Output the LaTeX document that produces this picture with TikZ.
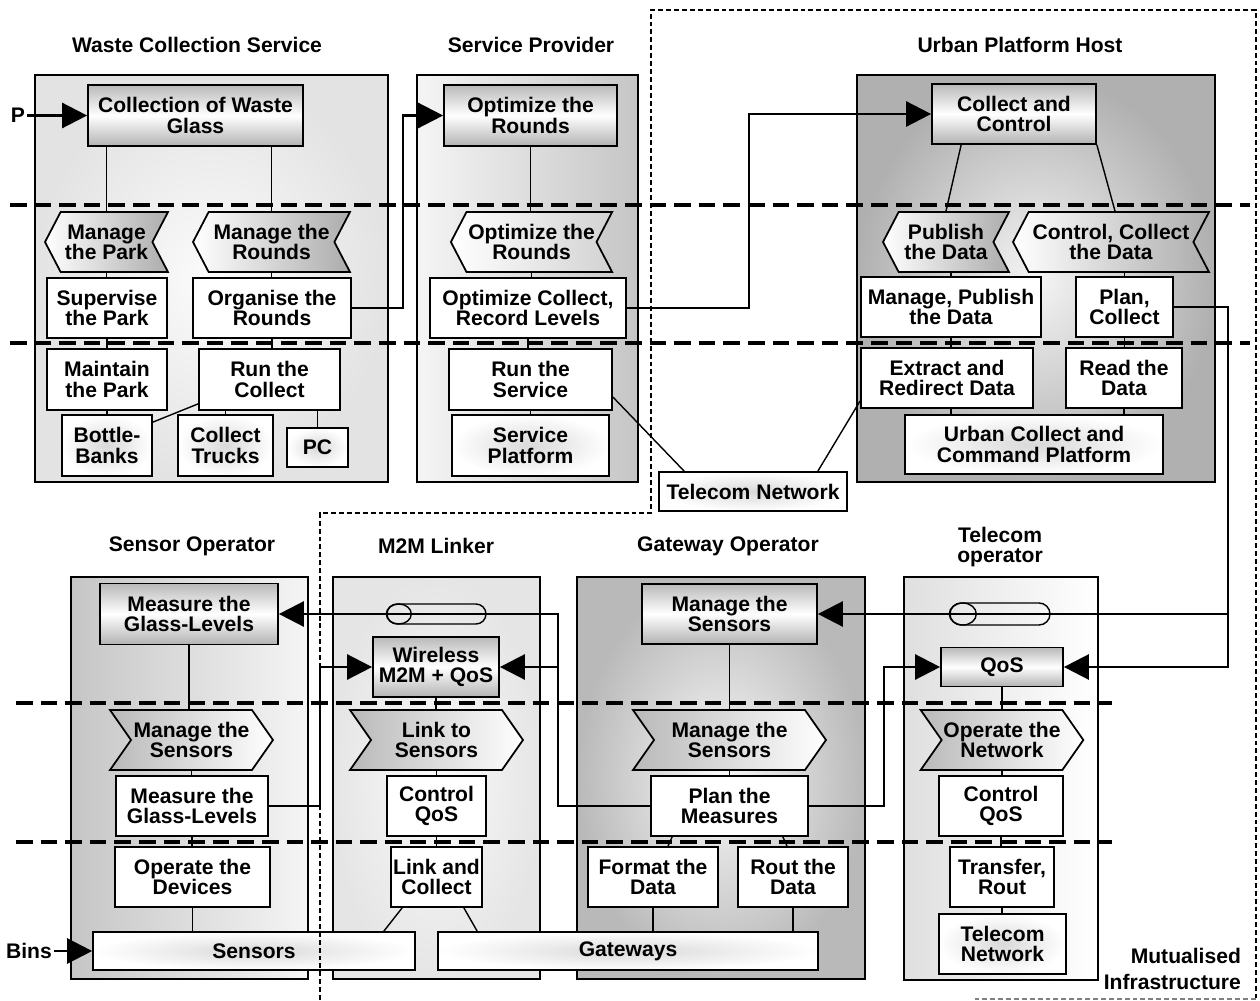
\documentclass[tikz,border=0pt]{standalone}
\usepackage{fontspec}
\setmainfont{Liberation Sans}
\usetikzlibrary{shapes.geometric, shapes.symbols, shapes.misc, arrows.meta}

\begin{document}
\begin{tikzpicture}[
    x=0.02cm, y=-0.02cm,
    every node/.style={font=\fontsize{12}{11.5}\selectfont\bfseries, align=center, inner sep=1pt},
    cont/.style={rectangle, draw, line width=1.1pt},
    proc/.style={rectangle, draw, line width=1pt, top color=gray!55, bottom color=gray!60, middle color=white},
    task/.style={rectangle, draw, line width=1pt, fill=white},
    res/.style={rectangle, draw, line width=1pt, inner color=gray!30, outer color=white},
    chevl/.style={signal, signal to=west, signal from=east, signal pointer angle=125, draw, line width=1pt, left color=white, right color=gray!65},
    chevr/.style={signal, signal to=east, signal from=west, signal pointer angle=110, draw, line width=1pt, left color=gray!55, right color=white},
    pipe/.style={rounded rectangle, draw, line width=0.8pt, inner sep=0pt},
    pipecap/.style={ellipse, draw, line width=0.8pt, inner sep=0pt},
    link/.style={line width=0.8pt},
    arrow/.style={-{Triangle[length=5mm, width=5mm]}, line width=1.5pt},
    level/.style={line width=2.3pt, dash pattern=on 9.5pt off 4.5pt},
    mutual/.style={line width=0.8pt, dash pattern=on 2.8pt off 1.7pt}
]
\useasboundingbox (0,0) rectangle (1260,1000);

% Role containers (top)
\node[cont, minimum width=7.06cm, minimum height=8.14cm, inner color=gray!3, outer color=gray!22] (wastebox) at (211.5,278.5) {};
\node[cont, minimum width=4.42cm, minimum height=8.14cm, left color=gray!8, right color=gray!45] (provbox) at (527.5,278.5) {};
\node[cont, minimum width=7.16cm, minimum height=8.14cm, inner color=gray!8, outer color=gray!62] (urbanbox) at (1036,278.5) {};

% Role containers (bottom)
\node[cont, minimum width=4.74cm, minimum height=8.04cm, left color=gray!45, right color=gray!8] (sensorbox) at (189.5,778) {};
\node[cont, minimum width=4.14cm, minimum height=8.04cm, inner color=gray!4, outer color=gray!20] (linkerbox) at (436.5,778) {};
\node[cont, minimum width=5.76cm, minimum height=8.04cm, inner color=gray!5, outer color=gray!55] (gatewaybox) at (721,778) {};
\node[cont, minimum width=3.88cm, minimum height=8.06cm, left color=gray!25, right color=white] (telecombox) at (1001,778.5) {};

% Titles
\node (wastetitle) at (197,45) {Waste Collection Service};
\node (provtitle) at (531,45) {Service Provider};
\node (urbantitle) at (1020,45) {Urban Platform Host};
\node (sensortitle) at (192,546) {Sensor Operator};
\node (linkertitle) at (436,546) {M2M Linker};
\node (gatewaytitle) at (728,546) {Gateway Operator};
\node (telecomtitle) at (1000,547) {Telecom\\operator};

% Level separators
\draw[level] (10,205) -- (1250,205);
\draw[level] (10,343) -- (1250,343);
\draw[level] (16,703) -- (1112,703);
\draw[level] (16,842) -- (1112,842);

% Waste Collection Service
\node[proc, minimum width=4.3cm, minimum height=1.22cm] (coll) at (195.5,115.5) {Collection of Waste\\Glass};
\node[chevl, minimum width=2.46cm, minimum height=1.2cm] (parkchev) at (106.5,242) {Manage\\the Park};
\node[chevl, minimum width=3.14cm, minimum height=1.2cm] (roundchev) at (271.5,242) {Manage the\\Rounds};
\node[task, minimum width=2.4cm, minimum height=1.2cm] (superv) at (107,308) {Supervise\\the Park};
\node[task, minimum width=3.16cm, minimum height=1.2cm] (organise) at (272,308) {Organise the\\Rounds};
\node[task, minimum width=2.4cm, minimum height=1.22cm] (maintain) at (107,379.5) {Maintain\\the Park};
\node[task, minimum width=2.82cm, minimum height=1.22cm] (runcoll) at (269.5,379.5) {Run the\\Collect};
\node[res, minimum width=1.8cm, minimum height=1.22cm] (banks) at (107,445.5) {Bottle-\\Banks};
\node[res, minimum width=1.9cm, minimum height=1.22cm] (trucks) at (225.5,445.5) {Collect\\Trucks};
\node[res, minimum width=1.22cm, minimum height=0.78cm] (pc) at (317.5,447.5) {PC};

% Service Provider
\node[proc, minimum width=3.46cm, minimum height=1.22cm] (optim) at (530.5,115.5) {Optimize the\\Rounds};
\node[chevl, minimum width=3.18cm, minimum height=1.2cm, right color=gray!35] (optchev) at (531.5,242) {Optimize the\\Rounds};
\node[task, minimum width=3.92cm, minimum height=1.2cm] (optcoll) at (528,308) {Optimize Collect,\\Record Levels};
\node[task, minimum width=3.26cm, minimum height=1.22cm] (runserv) at (530.5,379.5) {Run the\\Service};
\node[res, minimum width=3.14cm, minimum height=1.22cm] (servplat) at (530.5,445.5) {Service\\Platform};

% Urban Platform Host
\node[proc, minimum width=3.28cm, minimum height=1.2cm] (collctrl) at (1014,114) {Collect and\\Control};
\node[chevl, minimum width=2.52cm, minimum height=1.2cm] (pubchev) at (946,242) {Publish\\the Data};
\node[chevl, minimum width=3.92cm, minimum height=1.2cm] (ctrlchev) at (1111,242) {Control, Collect\\the Data};
\node[task, minimum width=3.6cm, minimum height=1.2cm] (managepub) at (951,307) {Manage, Publish\\the Data};
\node[task, minimum width=1.94cm, minimum height=1.2cm] (plancoll) at (1124.5,307) {Plan,\\Collect};
\node[task, minimum width=3.44cm, minimum height=1.2cm] (extract) at (947,378) {Extract and\\Redirect Data};
\node[task, minimum width=2.32cm, minimum height=1.2cm] (readdata) at (1124,378) {Read the\\Data};
\node[res, minimum width=5.16cm, minimum height=1.18cm] (urbplat) at (1034,444.5) {Urban Collect and\\Command Platform};

% Shared network
\node[res, minimum width=3.76cm, minimum height=0.78cm] (telnet) at (753,491.5) {Telecom Network};

% Sensor Operator
\node[proc, minimum width=3.56cm, minimum height=1.22cm] (measure) at (189,614) {Measure the\\Glass-Levels};
\node[chevr, minimum width=3.26cm, minimum height=1.2cm] (senschev) at (191.5,740) {Manage the\\Sensors};
\node[task, minimum width=3.04cm, minimum height=1.2cm] (measlev) at (192,806) {Measure the\\Glass-Levels};
\node[task, minimum width=3.1cm, minimum height=1.2cm] (operate) at (192.5,877) {Operate the\\Devices};
\node[res, minimum width=6.44cm, minimum height=0.76cm] (sensors) at (254,951) {Sensors};

% M2M Linker
\node[pipe, minimum width=1.98cm, minimum height=0.4cm] (m2mpipe) at (436.5,614) {};
\node[pipecap, minimum width=0.5cm, minimum height=0.4cm] (m2mcap) at ([xshift=0.25cm]m2mpipe.west) {};
\node[proc, minimum width=2.52cm, minimum height=1.2cm] (wireless) at (436,667) {Wireless\\M2M + QoS};
\node[chevr, minimum width=3.46cm, minimum height=1.2cm] (linkchev) at (436.5,740) {Link to\\Sensors};
\node[task, minimum width=1.98cm, minimum height=1.2cm] (ctrlqos) at (436.5,806) {Control\\QoS};
\node[task, minimum width=1.82cm, minimum height=1.2cm] (linkcoll) at (436.5,877) {Link and\\Collect};

% Gateway Operator
\node[proc, minimum width=3.5cm, minimum height=1.2cm] (mansens) at (729.5,614) {Manage the\\Sensors};
\node[chevr, minimum width=3.86cm, minimum height=1.2cm] (gwchev) at (729.5,740) {Manage the\\Sensors};
\node[task, minimum width=3.14cm, minimum height=1.2cm] (planmeas) at (729.5,806) {Plan the\\Measures};
\node[task, minimum width=2.6cm, minimum height=1.2cm] (format) at (653,877) {Format the\\Data};
\node[task, minimum width=2.2cm, minimum height=1.2cm] (rout) at (793,877) {Rout the\\Data};
\node[res, minimum width=7.6cm, minimum height=0.76cm] (gateways) at (628,951) {Gateways};

% Telecom operator
\node[pipe, minimum width=2cm, minimum height=0.44cm] (netpipe) at (1000,614) {};
\node[pipecap, minimum width=0.54cm, minimum height=0.44cm] (netcap) at ([xshift=0.27cm]netpipe.west) {};
\node[proc, minimum width=2.44cm, minimum height=0.78cm] (qos) at (1002,667) {QoS};
\node[chevr, minimum width=3.12cm, minimum height=1.2cm] (netchev) at (1002,740) {Operate the\\Network};
\node[task, minimum width=2.48cm, minimum height=1.2cm] (netqos) at (1001,806) {Control\\QoS};
\node[task, minimum width=2.08cm, minimum height=1.2cm] (transfer) at (1002,877) {Transfer,\\Rout};
\node[res, minimum width=2.54cm, minimum height=1.2cm] (netres) at (1002.5,944) {Telecom\\Network};

\node[anchor=east, align=right, font=\fontsize{12}{14.5}\selectfont\bfseries] (mutual) at (1243,969) {Mutualised\\Infrastructure};

% Links inside the roles
\draw[link] (parkchev.north) -- (parkchev.north |- coll.south);
\draw[link] (roundchev.north) -- (roundchev.north |- coll.south);
\draw[link] (parkchev.south) -- (parkchev.south |- superv.north);
\draw[link] (superv.south) -- (superv.south |- maintain.north);
\draw[link] (maintain.south) -- (maintain.south |- banks.north);
\draw[link] (roundchev.south) -- (roundchev.south |- organise.north);
\draw[link] (organise.south) -- (organise.south |- runcoll.north);
\draw[link] (trucks.north) -- (trucks.north |- runcoll.south);
\draw[link] (pc.north) -- (pc.north |- runcoll.south);
\draw[link] ([yshift=-0.16cm]banks.north east) -- ([yshift=0.14cm]runcoll.south west);

\draw[link] (optim.south) -- (optim.south |- optchev.north);
\draw[link] (optchev.south) -- (optchev.south |- optcoll.north);
\draw[link] (optcoll.south) -- (optcoll.south |- runserv.north);
\draw[link] (runserv.south) -- (runserv.south |- servplat.north);

\draw[link] (pubchev.north) -- ([xshift=0.6cm]collctrl.south west);
\draw[link] ([xshift=0.08cm]ctrlchev.north) -- (collctrl.south east);
\draw[link] (managepub.north) -- (managepub.north |- pubchev.south);
\draw[link] (managepub.south) -- (managepub.south |- extract.north);
\draw[link] (managepub.south |- extract.south) -- (managepub.south |- urbplat.north);
\draw[link] (plancoll.north) -- (plancoll.north |- ctrlchev.south);
\draw[link] (plancoll.south) -- (plancoll.south |- readdata.north);
\draw[link] (readdata.south) -- (readdata.south |- urbplat.north);

\draw[link] ([yshift=-0.35cm]runserv.east) -- ([xshift=0.52cm]telnet.north west);
\draw[link] ([yshift=0.16cm]extract.south west) -- ([xshift=-0.6cm]telnet.north east);

\draw[link] (measure.south) -- (measure.south |- senschev.north);
\draw[link] (senschev.south) -- (senschev.south |- measlev.north);
\draw[link] (measlev.south) -- (measlev.south |- operate.north);
\draw[link] (operate.south) -- (operate.south |- sensors.north);

\draw[link] (wireless.south) -- (wireless.south |- linkchev.north);
\draw[link] (linkchev.south) -- (linkchev.south |- ctrlqos.north);
\draw[link] (ctrlqos.south) -- (ctrlqos.south |- linkcoll.north);
\draw[link] ([xshift=0.24cm]linkcoll.south west) -- ([xshift=-0.64cm]sensors.north east);
\draw[link] ([xshift=-0.38cm]linkcoll.south east) -- ([xshift=0.8cm]gateways.north west);

\draw[link] (mansens.south) -- (mansens.south |- gwchev.north);
\draw[link] (gwchev.south) -- (gwchev.south |- planmeas.north);
\draw[link] ([xshift=0.44cm]planmeas.south west) -- ([xshift=0.3cm]format.north);
\draw[link] ([xshift=-0.52cm]planmeas.south east) -- ([xshift=-0.12cm]rout.north);
\draw[link] (format.south) -- (format.south |- gateways.north);
\draw[link] (rout.south) -- (rout.south |- gateways.north);

\draw[link] (qos.south) -- (qos.south |- netchev.north);
\draw[link] (netchev.south) -- (netchev.south |- netqos.north);
\draw[link] (netqos.south) -- (netqos.south |- transfer.north);
\draw[link] (transfer.south) -- (transfer.south |- netres.north);

% Flows between roles
\node (p) at (18,115.5) {P};
\draw[arrow] (p.east) -- (coll.west);
\draw[arrow] (organise.east) -- ++(51,0) |- (optim.west);
\draw[arrow] (optcoll.east) -- ++(122,0) |- (collctrl.west);

\coordinate (rightbus) at (1228,614);
\draw[arrow] (plancoll.east) -| (rightbus) |- (qos.east);
\draw[arrow] (rightbus) -- (mansens.east);

\coordinate (leftbus) at (558,614);
\draw[arrow] (planmeas.west) -| (leftbus) -- (measure.east);
\draw[arrow] (leftbus |- wireless.east) -- (wireless.east);
\draw[arrow] (planmeas.east) -- ++(75,0) |- (qos.west);
\draw[arrow] (measlev.east) -- ++(51,0) |- (wireless.west);

\node (bins) at (29,951) {Bins};
\draw[arrow] (bins.east) -- (sensors.west);

% Mutualised infrastructure boundary
\draw[mutual] (320,1000) -- (320,513) -- (651,513) -- (651,10) -- (1256,10) -- (1256,999);
\draw[mutual, gray] (1256,999) -- (975,999);

\end{tikzpicture}
\end{document}
